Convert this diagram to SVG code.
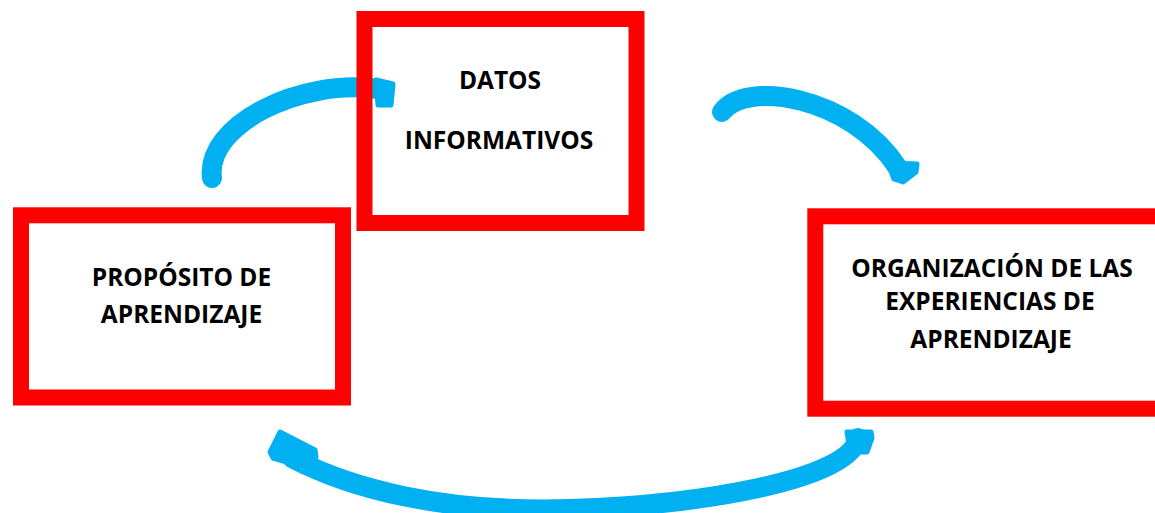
<svg xmlns="http://www.w3.org/2000/svg" width="1155" height="513" viewBox="0 0 1155 513">
<style>
.box{fill:none;stroke:#FF0000;stroke-width:16}
.lbl{font-family:"Open Sans","Liberation Sans",sans-serif;font-weight:bold;font-size:24.5px;fill:#000;text-anchor:middle}
.arc{fill:none;stroke:#00B0F0;stroke-width:20;stroke-linecap:round}
.head{fill:#00B0F0;stroke:#00B0F0;stroke-width:5;stroke-linejoin:round}
</style>
<rect width="1155" height="513" fill="#fff"/>
<g id="connectors">
<path class="arc" d="M 212 178 C 205 125, 300 78, 378 89"/>
<polygon class="head" points="376,80 393,84 391,105 378,105"/>
<path class="arc" d="M 722 112 C 745 80, 850 95, 898 168"/>
<polygon class="head" points="888,163 917,164 916,172 903,182 894,179"/>
<path class="arc" d="M 858 438 C 850 480, 700 505, 570 509 C 440 513, 350 488, 292 458"/>
<polygon class="head" points="280,432 315,450 316,457 290,463 273,458 270,452"/>
<polygon class="head" points="847,432 871,432 872,438 867,452 850,452"/>
</g>
<g id="node-datos">
<rect class="box" x="364.5" y="19" width="272" height="204"/>
<text class="lbl" x="500" y="88.5">DATOS</text>
<text class="lbl" x="499" y="148.5">INFORMATIVOS</text>
</g>
<g id="node-proposito">
<rect class="box" x="21" y="215.3" width="322" height="182.2"/>
<text class="lbl" x="181.5" y="285.5">PROPÓSITO DE</text>
<text class="lbl" x="181.5" y="322.5">APRENDIZAJE</text>
</g>
<g id="node-organizacion">
<rect class="box" x="815.3" y="216.3" width="360" height="192.4"/>
<text class="lbl" x="992" y="276.5">ORGANIZACIÓN DE LAS</text>
<text class="lbl" x="990" y="310">EXPERIENCIAS DE</text>
<text class="lbl" x="991" y="347.5">APRENDIZAJE</text>
</g>
</svg>
